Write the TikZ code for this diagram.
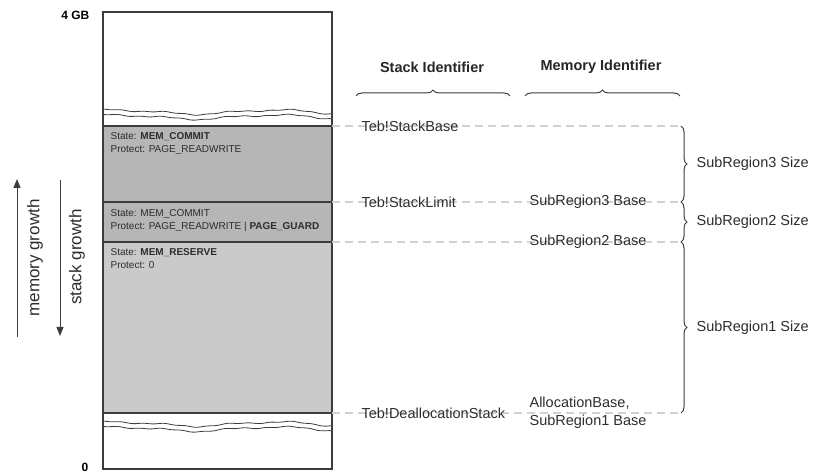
\documentclass[tikz,border=0pt]{standalone}
\usepackage{fontspec}
\setmainfont{Liberation Sans}
\usetikzlibrary{decorations.pathreplacing,arrows.meta}
\definecolor{commitgray}{RGB}{182,182,182}
\definecolor{reservegray}{RGB}{202,202,202}
\definecolor{linegray}{RGB}{60,60,60}
\definecolor{dashgray}{RGB}{210,210,210}
\definecolor{txtgray}{RGB}{45,45,45}
\tikzset{
boxtext/.style={anchor=north west,align=left,inner sep=0pt,text=txtgray,font=\fontsize{10}{13}\selectfont},
idlabel/.style={anchor=west,inner sep=0pt,text=txtgray,font=\fontsize{14.5}{18}\selectfont},
headlabel/.style={inner sep=0pt,text=black!85,font=\bfseries\fontsize{14.5}{16}\selectfont},
guide/.style={dashgray,line width=1.3pt,dash pattern=on 8pt off 5pt},
sizebrace/.style={decorate,decoration={brace,amplitude=6pt},linegray,line width=1pt},
wave/.style={linegray,line width=.8pt}
}
\begin{document}
\begin{tikzpicture}[x=1pt,y=-1pt,line width=1.2pt]
\useasboundingbox (0,0) rectangle (815,473);

\fill[commitgray] (103,126) rectangle (332,242);
\fill[reservegray] (103,242) rectangle (332,413);
\foreach \y in {126,202,242,413}
\draw[linegray] (103,\y)--(332,\y);
\draw[linegray] (103,12) rectangle (332,469);

\foreach \w in {112,424}{
\draw[wave] plot[smooth,samples=80,domain=103:332] (\x,{\w+2*sin(2.3*\x)+0.9*sin(5.7*\x+40)+0.4*sin(17*\x)});
\draw[wave] plot[smooth,samples=80,domain=103:332] (\x,{\w+5+2*sin(2.3*\x)+0.9*sin(5.7*\x+40)+0.4*sin(17*\x+60)});
}

\node[boxtext] (st1) at (110,132) {State: \textbf{MEM\_COMMIT}\\Protect: PAGE\_READWRITE};
\node[boxtext] (st2) at (110,209) {State: MEM\_COMMIT\\Protect: PAGE\_READWRITE | \textbf{PAGE\_GUARD}};
\node[boxtext] (st3) at (110,248) {State: \textbf{MEM\_RESERVE}\\Protect: 0};

\node[anchor=east,inner sep=0pt,font=\bfseries\fontsize{12}{12}\selectfont] (top) at (90,15) {4 GB};
\node[anchor=east,inner sep=0pt,font=\bfseries\fontsize{12}{12}\selectfont] (bottom) at (89,467) {0};

\coordinate (mlow) at (17,337);
\coordinate (mhigh) at (17,179);
\coordinate (shigh) at (60,180);
\coordinate (slow) at (60,336);
\draw[linegray,line width=1pt,-{Triangle[length=9pt,width=7pt]}] (mlow)--(mhigh);
\draw[linegray,line width=1pt,-{Triangle[length=9pt,width=7pt]}] (shigh)--(slow);
\node[rotate=90,text=txtgray,font=\fontsize{17}{17}\selectfont] (mgrow) at (35,258) {memory growth};
\node[rotate=90,text=txtgray,font=\fontsize{17}{17}\selectfont] (sgrow) at (77,257) {stack growth};

\node[headlabel] (stackid) at (432,67) {Stack Identifier};
\node[headlabel] (memid) at (601,67) {Memory Identifier};
\draw[sizebrace] (356,96)--(510,96);
\draw[sizebrace] (525,96)--(680,96);

\foreach \n/\y in {a/126,b/202,c/242,d/413}{
\coordinate (mem\n) at (332,\y);
\coordinate (brc\n) at (681,\y);
\draw[guide] (mem\n)--(brc\n);
}

\node[idlabel] (sbase) at (361,126) {Teb!StackBase};
\node[idlabel] (slimit) at (361,202) {Teb!StackLimit};
\node[idlabel] (sr3base) at (529,202) {SubRegion3 Base};
\node[idlabel] (sr2base) at (529,242) {SubRegion2 Base};
\node[idlabel] (dealloc) at (361,413) {Teb!DeallocationStack};
\node[idlabel,align=left] (sr1base) at (529,413) {AllocationBase,\\SubRegion1 Base};

\draw[sizebrace] (brca)--(brcb);
\draw[sizebrace] (brcb)--(brcc);
\draw[sizebrace] (brcc)--(brcd);
\node[idlabel] (sr3size) at (696,164) {SubRegion3 Size};
\node[idlabel] (sr2size) at (696,222) {SubRegion2 Size};
\node[idlabel] (sr1size) at (696,328) {SubRegion1 Size};

\end{tikzpicture}
\end{document}
